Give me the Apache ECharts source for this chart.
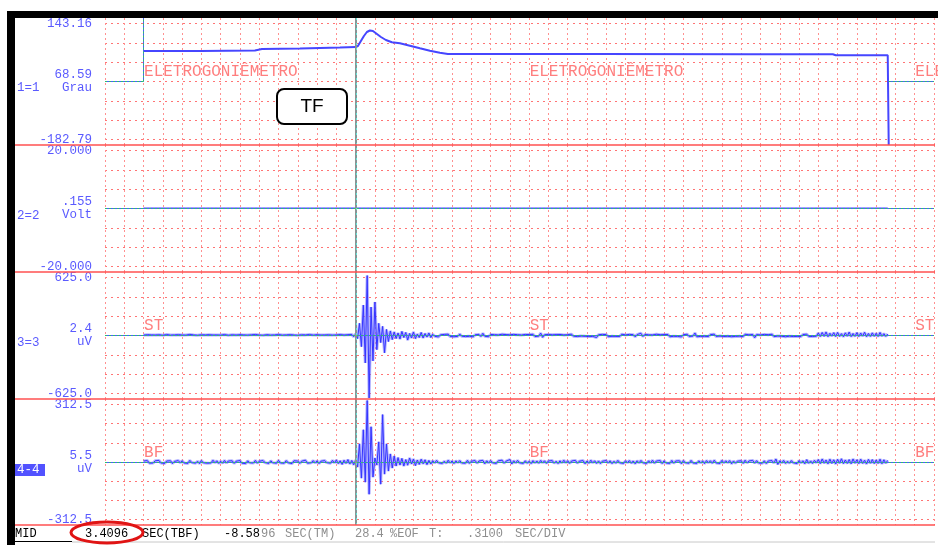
<!DOCTYPE html>
<html>
<head>
<meta charset="utf-8">
<script src="https://cdn.jsdelivr.net/npm/echarts@6/dist/echarts.min.js"></script>
<style>
  html, body { margin: 0; padding: 0; background: #ffffff; }
  #chart { width: 938px; height: 545px; }
</style>
</head>
<body>
<div id="chart"></div>
<script>
// ---- time axis (seconds); one grid step = 0.0775 s (T: .3100 SEC/DIV, 4 steps per division)
const DIV_STEP = 0.0775;
const X_MAX = 3.3325;
const CURSOR_T = 1.0075;

// ---- channel descriptions
const channelIds = ['1=1', '2=2', '3=3', '4-4'];
const channelNames = ['ELETROGONIÊMETRO', '', 'ST', 'BF'];
const nameT = [0.155, 1.705, 3.255];
const scaleTop = [143.16, 20, 625, 312.5];
const scaleBottom = [-182.79, -20, -625, -312.5];
const topLabels = ['143.16', '20.000', '625.0', '312.5'];
const bottomLabels = ['-182.79', '-20.000', '-625.0', '-312.5'];
const readouts = ['68.59', '.155', '2.4', '5.5'];
const units = ['Grau', 'Volt', 'uV', 'uV'];

// ---- channel 1: electrogoniometer angle (Grau)
const angT = [0.155, 0.3818, 0.6028, 0.6309, 0.7836, 0.9443, 1.0075, 1.0167, 1.0287, 1.0408,
  1.0528, 1.0649, 1.0770, 1.0931, 1.1092, 1.1292, 1.1533, 1.1855, 1.2256, 1.2658,
  1.3060, 1.3462, 1.3783, 1.9892, 2.5919, 2.9255, 2.9375, 3.1465, 3.1505];
const angV = [58.5, 58.5, 59.7, 63.6, 64.9, 67.4, 68.59, 71.3, 84.1, 97.0,
  107.2, 111.1, 109.8, 102.1, 94.4, 86.7, 80.8, 78.2, 72.1, 65.4,
  59.2, 54.1, 50.8, 50.8, 50.3, 50.0, 47.4, 47.4, -182.79];

// ---- channel 2: voltage (flat)
const voltT = [0.155, 3.1465];
const voltV = [0.155, 0.155];

// ---- channels 3 and 4: EMG samples (uV), one every emgDt seconds from emgT0
const emgT0 = 0.155;
const emgDt = 0.00775;
const stV = [
  4, -6, 8, -3, 6, -9, 5, -4, 7, -8,
  3, -5, 9, -6, 4, -7, 6, -3, 8, -5,
  5, -8, 4, -6, 10, -4, 6, -7, 3, -9,
  7, -5, 6, -4, 8, -10, 5, -3, 6, -7,
  4, -6, 9, -5, 3, -8, 7, -4, 5, -6,
  8, -3, 6, -9, 4, -5, 7, -6, 10, -4,
  5, -7, 3, -5, 8, -6, 4, -8, 6, -3,
  9, -5, 4, -7, 6, -4, 8, -9, 5, -6,
  3, -8, 7, -4, 6, -5, 9, -7, 4, -6,
  8, -4, 5, -10, 6, -3, 7, -6, 4, -8,
  6, -5, 9, -4, 5, -7, 8, -6, 10, -12,
  15, -30, 120, -110, 300, -270, 590, -615, 280, -250,
  330, -140, 120, -70, 90, -170, 60, -60, 45, -40, 35, -30,
  25, -35, 40, -20, 30, -45, 20, -25, 35, -30,
  15, -20, 30, -25, 20, -15, 25, -20,
  12, -8, 10, -14, 7, -9, 11, -6, 13, -10,
  8, -12, 6, -9, 14, -7, 10, -11, 5, -8,
  9, -13, 7, -6, 11, -10, 22, -8, 6, -12,
  10, -7, 8, -11, 6, -9, 12, -5, 9, -10,
  7, -12, 11, -6, 8, -9, 5, -14, 10, -7,
  9, -8, 12, -10, 6, -7, 24, -18, 8, -9,
  11, -6, 7, -12, 9, -8, 10, -5, 6, -11,
  8, -9, 13, -7, 5, -10, 9, -6, 12, -8,
  7, -11, 6, -9, 10, -20, 8, -7, 11, -6,
  9, -12, 5, -8, 10, -9, 7, -10, 12, -6,
  6, -9, 11, -7, 8, -13, 9, -5, 22, -10,
  10, -8, 7, -11, 6, -9, 12, -7, 8, -10,
  9, -6, 10, -12, 7, -8, 11, -9, 6, -14,
  8, -7, 12, -10, 9, -6, 25, -12, 7, -9,
  10, -8, 6, -11, 9, -7, 13, -9, 8, -6,
  11, -10, 7, -8, 9, -12, 6, -9, 10, -7,
  8, -11, 12, -6, 7, -9, 10, -22, 9, -8,
  6, -10, 11, -7, 8, -9, 12, -11, 7, -6,
  10, -8, 9, -12, 6, -7, 11, -10, 8, -9,
  7, -11, 10, -6, 13, -9, 8, -10, 9, -7,
  25, -10, 30, -8, 35, -12, 22, -6, 28, -10,
  30, -9, 18, -12, 26, -7, 34, -11, 20, -8,
  28, -10, 24, -6, 32, -12, 20, -9, 26, -8,
  22, -10, 30, -7, 18, -9, 15
];
const bfV = [
  5, -4, 7, -6, 3, -5, 6, -3, 8, -5,
  4, -7, 5, -4, 6, -8, 3, -5, 7, -4,
  6, -5, 4, -7, 8, -3, 5, -6, 4, -8,
  7, -4, 5, -6, 3, -5, 9, -4, 6, -7,
  4, -6, 8, -5, 5, -3, 6, -7, 4, -5,
  7, -6, 3, -8, 6, -4, 5, -5, 8, -6,
  4, -5, 7, -3, 5, -7, 6, -4, 3, -6,
  8, -5, 4, -6, 7, -4, 5, -8, 6, -3,
  5, -7, 4, -5, 9, -6, 3, -4, 7, -5,
  6, -8, 4, -5, 7, -3, 5, -6, 8, -4,
  10, -8, 6, -12, 9, -7, 12, -10, 8, -14,
  10, -25, 90, -80, 160, -100, 305, -160, 175, -75,
  20, -15, 100, -110, 235, -60, 90, -45, 40, -30, 30, -20,
  22, -15, 18, -20, 12, -16, 20, -10, 15, -18,
  10, -12, 14, -9, 11, -13, 8, -10,
  6, -5, 8, -4, 5, -7, 4, -6, 9, -5,
  5, -8, 6, -4, 7, -5, 3, -6, 8, -7,
  4, -5, 7, -6, 5, -4, 8, -9, 6, -5,
  7, -4, 5, -7, 6, -3, 9, -6, 4, -5,
  12, -10, 6, -5, 8, -4, 5, -7, 6, -6,
  4, -8, 7, -5, 5, -6, 8, -4, 6, -7,
  5, -4, 7, -6, 4, -8, 6, -5, 9, -4,
  6, -7, 5, -4, 8, -6, 4, -5, 7, -9,
  5, -6, 9, -4, 6, -7, 5, -8, 4, -5,
  7, -5, 6, -8, 4, -6, 8, -4, 5, -7,
  6, -4, 7, -6, 5, -9, 6, -5, 8, -4,
  4, -7, 6, -5, 9, -6, 5, -4, 7, -8,
  6, -5, 4, -7, 8, -6, 5, -4, 6, -9,
  7, -4, 5, -6, 8, -5, 4, -7, 6, -5,
  5, -8, 7, -4, 6, -6, 9, -5, 4, -7,
  8, -5, 6, -4, 7, -9, 5, -6, 4, -5,
  6, -7, 9, -5, 5, -4, 8, -6, 7, -5,
  4, -6, 6, -8, 5, -4, 7, -5, 15, -12,
  6, -5, 8, -7, 4, -6, 7, -4, 5, -8,
  7, -5, 6, -9, 12, -6, 5, -7, 8, -4,
  12, -8, 15, -6, 10, -9, 14, -7, 11, -10,
  13, -6, 16, -8, 10, -7, 12, -9, 15, -6,
  11, -8, 14, -7, 9, -10, 13, -6, 12, -8,
  10, -7, 14, -9, 11, -6, 8
];

// ---- status line
const statusBlack = [['MID', 15], ['3.4096', 85], ['SEC(TBF)', 142], ['-8.58', 224]];
const statusGrey = [['96', 261], ['SEC(TM)', 285], ['28.4', 355], ['%EOF', 390], ['T:', 429], ['.3100', 467], ['SEC/DIV', 515]];

// ---- layout
const PLOT_LEFT = 105;
const PLOT_RIGHT = 4;
const bandTop = [18, 145, 272, 399];
const bandH = [127, 127, 127, 126];
const INSET = 5.5;

const BLUE_TEXT = '#5a5aff';
const TRACE = '#4646ff';
const NAME_RED = '#ff5e5e';
const MONO = 'Liberation Mono';

const chart = echarts.init(document.getElementById('chart'), null, { renderer: 'canvas' });

const grid = [], xAxis = [], yAxis = [], series = [];
const xBase = {
  type: 'value', min: 0, max: X_MAX, interval: DIV_STEP,
  axisLine: { show: false }, axisTick: { show: false }, axisLabel: { show: false }
};

for (let p = 0; p < 4; p++) {
  grid.push({ left: PLOT_LEFT, right: PLOT_RIGHT, top: bandTop[p], height: bandH[p] });
}
for (let p = 0; p < 4; p++) {
  grid.push({ left: PLOT_LEFT, right: PLOT_RIGHT, top: bandTop[p] + INSET, height: bandH[p] - 2 * INSET });
}
grid.push({ left: PLOT_LEFT, right: PLOT_RIGHT, top: 18, height: 507 });

for (let p = 0; p < 4; p++) {
  xAxis.push(Object.assign({}, xBase, {
    gridIndex: p,
    splitLine: { show: true, lineStyle: { color: '#ff9090', width: 1, type: [2, 3] } }
  }));
  yAxis.push({ type: 'value', gridIndex: p, min: scaleBottom[p], max: scaleTop[p], show: false });
}
for (let p = 0; p < 4; p++) {
  xAxis.push(Object.assign({}, xBase, { gridIndex: 4 + p, splitLine: { show: false } }));
  yAxis.push({
    type: 'value', gridIndex: 4 + p, min: -3, max: 3, interval: 1,
    axisLine: { show: false }, axisTick: { show: false },
    splitLine: { show: true, lineStyle: { color: '#ff7474', width: 1, type: [2, 4] } },
    axisLabel: {
      customValues: [-3, 0, 3], margin: 13, showMinLabel: true, showMaxLabel: true,
      fontFamily: MONO, fontSize: 12.5, color: BLUE_TEXT, lineHeight: 13,
      formatter: v => (v > 0 ? topLabels[p] : v < 0 ? bottomLabels[p] : readouts[p] + '\n' + units[p])
    }
  });
}
xAxis.push(Object.assign({}, xBase, { gridIndex: 8, show: false }));
yAxis.push({ type: 'value', gridIndex: 8, min: 0, max: 1, show: false });

// zero line of a channel: blue line with green dots over it
const zeroStyles = [
  { color: '#4f58ff', width: 1, type: 'solid' },
  { color: '#2cc46a', width: 1, type: [2, 2] }
];
function zeroLine(segs) {
  const out = [];
  segs.forEach(s => zeroStyles.forEach(st => {
    out.push([{ coord: s[0], lineStyle: st }, { coord: s[1] }]);
  }));
  return { symbol: ['none', 'none'], silent: true, animation: false, label: { show: false }, data: out };
}
const mid = p => (scaleTop[p] + scaleBottom[p]) / 2;

// channel 1
const angLast = angT.length - 1;
series.push({
  type: 'line', xAxisIndex: 0, yAxisIndex: 0, symbol: 'none', clip: false,
  data: angT.map((t, i) => [t, angV[i]]),
  lineStyle: { color: TRACE, width: 2 },
  markLine: zeroLine([
    [[0, mid(0)], [angT[0], mid(0)]],
    [[angT[0], mid(0)], [angT[0], scaleTop[0]]],
    [[angT[angLast], mid(0)], [X_MAX, mid(0)]]
  ])
});

// channel 2
series.push({
  type: 'line', xAxisIndex: 1, yAxisIndex: 1, symbol: 'none',
  data: voltT.map((t, i) => [t, voltV[i]]),
  lineStyle: { color: TRACE, width: 1 },
  markLine: zeroLine([[[0, mid(1)], [X_MAX, mid(1)]]])
});

// channels 3 and 4
[[2, stV], [3, bfV]].forEach(([p, vals]) => {
  const pts = vals.map((v, i) => [emgT0 + i * emgDt, v]);
  series.push({
    type: 'line', xAxisIndex: p, yAxisIndex: p, symbol: 'none', clip: false,
    data: pts, lineStyle: { color: 'rgba(120,120,255,0.55)', width: 3 }
  });
  series.push({
    type: 'line', xAxisIndex: p, yAxisIndex: p, symbol: 'none', clip: false,
    data: pts, lineStyle: { color: '#3434ff', width: 1 },
    markLine: zeroLine([[[0, mid(p)], [X_MAX, mid(p)]]])
  });
});

// channel names along each zero line
for (let p = 0; p < 4; p++) {
  if (!channelNames[p]) continue;
  series.push({
    type: 'scatter', xAxisIndex: 4 + p, yAxisIndex: 4 + p, symbolSize: 1, silent: true,
    itemStyle: { color: 'rgba(0,0,0,0)' },
    data: nameT.map(t => [t, 0]),
    label: {
      show: true, position: [1, -1], align: 'left', verticalAlign: 'bottom',
      formatter: () => channelNames[p],
      fontFamily: MONO, fontSize: 16, color: NAME_RED
    }
  });
}

// time cursor across all channels
series.push({
  type: 'line', xAxisIndex: 8, yAxisIndex: 8, data: [],
  markLine: {
    symbol: ['none', 'none'], silent: true, animation: false, label: { show: false },
    data: [
      { xAxis: CURSOR_T, lineStyle: { color: '#8a9494', width: 2, type: 'solid' } },
      { xAxis: CURSOR_T, lineStyle: { color: '#5ee6d8', width: 1, type: [2, 3] } }
    ]
  }
});

// ---- frame, separators, side texts, status line
const graphic = [];
graphic.push({ type: 'rect', shape: { x: 7, y: 11, width: 931, height: 7 }, style: { fill: '#000' }, z: 50 });
graphic.push({ type: 'rect', shape: { x: 7, y: 11, width: 8, height: 534 }, style: { fill: '#000' }, z: 50 });
[145, 272, 399, 525].forEach(y => {
  graphic.push({ type: 'line', shape: { x1: 15, y1: y, x2: 935, y2: y }, style: { stroke: '#ff5050', lineWidth: 1.5 }, z: 40 });
});
const idY = [88, 216, 343, 470];
channelIds.forEach((id, p) => {
  if (p === 3) {
    graphic.push({ type: 'rect', shape: { x: 15, y: 464, width: 30, height: 12 }, style: { fill: '#5252ff' }, z: 45 });
  }
  graphic.push({
    type: 'text', x: 17, y: idY[p], z: 46,
    style: { text: id, fontFamily: MONO, fontSize: 12.5, fill: p === 3 ? '#ffffff' : BLUE_TEXT, verticalAlign: 'middle', align: 'left' }
  });
});
graphic.push({
  type: 'rect', shape: { x: 277, y: 89, width: 70, height: 35, r: 7 },
  style: { fill: '#ffffff', stroke: '#000000', lineWidth: 2 }, z: 60
});
graphic.push({
  type: 'text', x: 312, y: 107, z: 61,
  style: { text: 'TF', fontFamily: 'Liberation Sans', fontSize: 19, fill: '#000', align: 'center', verticalAlign: 'middle' }
});
statusBlack.forEach(([s, x]) => graphic.push({
  type: 'text', x: x, y: 533.5, z: 46,
  style: { text: s, fontFamily: MONO, fontSize: 12, fill: '#000', verticalAlign: 'middle' }
}));
statusGrey.forEach(([s, x]) => graphic.push({
  type: 'text', x: x, y: 533.5, z: 46,
  style: { text: s, fontFamily: MONO, fontSize: 12, fill: '#8e8e8e', verticalAlign: 'middle' }
}));
graphic.push({ type: 'line', shape: { x1: 15, y1: 541.5, x2: 72, y2: 541.5 }, style: { stroke: '#000', lineWidth: 1 }, z: 46 });
graphic.push({ type: 'line', shape: { x1: 72, y1: 542, x2: 935, y2: 542 }, style: { stroke: '#c8c8c8', lineWidth: 1 }, z: 45 });
graphic.push({
  type: 'ellipse', shape: { cx: 107, cy: 532.5, rx: 36, ry: 10.5 },
  style: { fill: 'none', stroke: '#e01414', lineWidth: 3 }, z: 70
});

chart.setOption({
  animation: false,
  backgroundColor: '#ffffff',
  grid: grid,
  xAxis: xAxis,
  yAxis: yAxis,
  series: series,
  graphic: graphic
});
</script>
</body>
</html>
